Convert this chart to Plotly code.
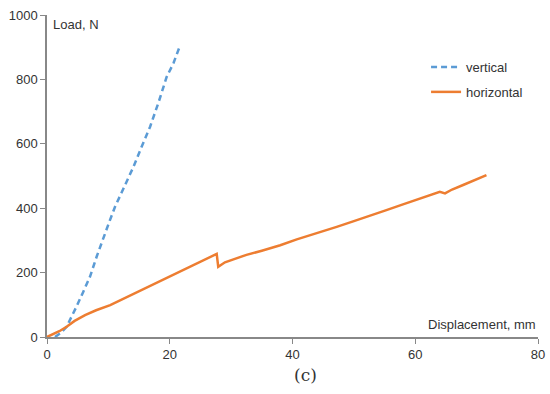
import plotly.graph_objects as go

vert_x = [1.3, 2.2, 3.2, 4.0, 4.8, 5.9, 7.0, 8.1, 9.2, 10.2, 11.1, 12.6, 14.1, 15.4, 16.8, 18.2, 19.5, 20.6, 21.6]
vert_y = [0, 12, 32, 62, 94, 140, 187, 250, 311, 360, 405, 468, 529, 590, 653, 730, 808, 850, 901]

hor_x = [0, 1, 2, 3.2, 4.5, 6.2, 8, 10.3, 12.5, 14.5, 16.8, 18.5, 20, 22, 24.9, 26.5, 27.65, 27.9, 29, 30.5, 32.5,
         35, 38, 40.7, 44, 47.2, 50, 53, 55.3, 58, 61, 64.0, 64.85, 66, 67.8, 69.5, 71.6]
hor_y = [0, 8, 18, 32, 50, 68, 83, 99, 119, 138, 158, 174, 188, 207, 234, 248, 258, 218, 232, 242, 255,
         268, 285, 303, 322, 342, 360, 378, 394, 412, 432, 451, 446, 458, 472, 487, 503]

fig = go.Figure()
fig.add_trace(go.Scatter(x=vert_x, y=vert_y, mode="lines", name="vertical", legendgroup="v",
                         line=dict(color="#5b9bd5", width=2.5, dash="6px,4px")))
fig.add_trace(go.Scatter(x=hor_x, y=hor_y, mode="lines", name="horizontal", legendgroup="h",
                         line=dict(color="#ed7d31", width=2.5)))

font = "Liberation Sans, Arial, sans-serif"
fig.update_layout(
    width=550, height=394,
    margin=dict(l=47, r=12, t=15, b=57, autoexpand=False),
    paper_bgcolor="white", plot_bgcolor="white",
    font=dict(family=font, size=13, color="#333"),
    showlegend=True,
    legend=dict(x=0.772, y=0.885, xanchor="left", yanchor="top",
                bgcolor="rgba(0,0,0,0)", font=dict(size=13), tracegroupgap=5),
    xaxis=dict(range=[0, 80], tickvals=[0, 20, 40, 60, 80], showgrid=False, zeroline=False,
               showline=True, linecolor="#888", linewidth=1.5, ticks="outside", ticklen=5,
               tickcolor="#888", automargin=False, tickfont=dict(size=13), ticklabeloverflow="allow"),
    yaxis=dict(range=[0, 1000], tickvals=[0, 200, 400, 600, 800, 1000], showgrid=False, zeroline=False,
               showline=True, linecolor="#888", linewidth=1.5, ticks="outside", ticklen=5,
               tickcolor="#888", automargin=False, tickfont=dict(size=13), ticklabeloverflow="allow"),
    annotations=[
        dict(text="Load, N", x=0, y=1, xref="paper", yref="paper", xanchor="left", yanchor="top",
             xshift=4, showarrow=False, font=dict(size=13)),
        dict(text="Displacement, mm", x=1, y=0, xref="paper", yref="paper", xanchor="right",
             yanchor="bottom", yshift=3, showarrow=False, font=dict(size=13)),
        dict(text="(c)", x=0.527, y=-0.118, xref="paper", yref="paper", xanchor="center",
             yanchor="middle", showarrow=False, font=dict(size=17, family="DejaVu Serif, serif")),
    ],
)
fig.write_html("out.html", config={"displayModeBar": False},
               post_script="document.body.style.margin='0';document.body.style.overflow='hidden';")
